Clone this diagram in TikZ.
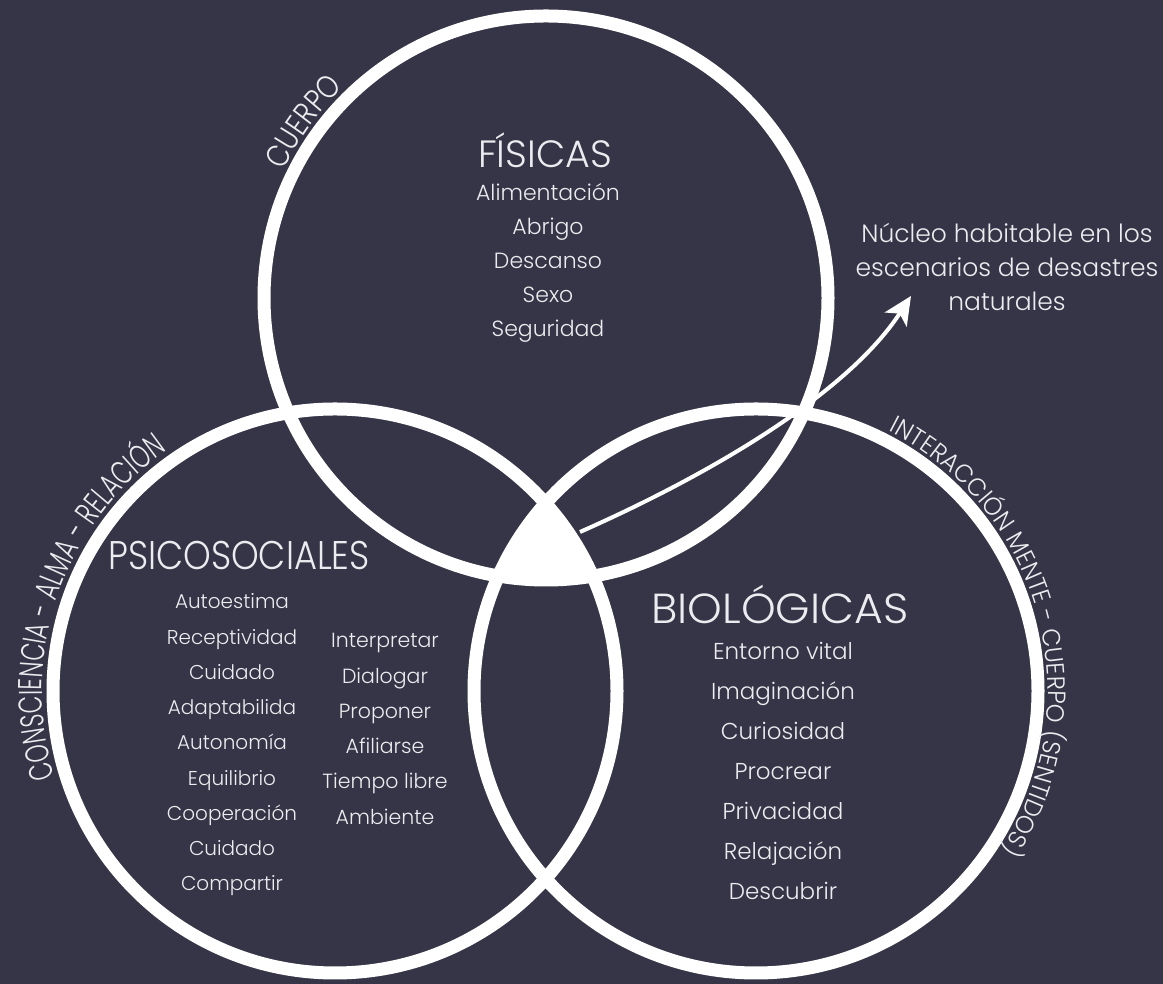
\documentclass[tikz,border=0pt]{standalone}
\usepackage{fontspec}
\setmainfont{Poppins}[UprightFont=* Light]
\usetikzlibrary{decorations.text, arrows.meta}
\definecolor{bg}{RGB}{54,53,71}
\definecolor{fg}{RGB}{236,236,240}
\tikzset{
  ring/.style={draw=white, line width=13pt},
  title/.style={text=fg, inner sep=0pt},
  items/.style={text=fg, inner sep=0pt, align=center},
  arclabel/.style={decorate, decoration={text along path, text align=center, text color=fg}},
}
\begin{document}
\begin{tikzpicture}[x=1pt, y=1pt]
\fill[bg] (0,0) rectangle (1163,984);
\useasboundingbox (0,0) rectangle (1163,984);
\coordinate (cT) at (546,686);
\coordinate (cL) at (335,293);
\coordinate (cR) at (756,293);
% central core
\begin{scope}
  \clip (cT) circle[radius=282pt];
  \clip (cL) circle[radius=282pt];
  \fill[white] (cR) circle[radius=282pt];
\end{scope}
% circles
\draw[ring] (cT) circle[radius=282pt];
\draw[ring] (cL) circle[radius=282pt];
\draw[ring] (cR) circle[radius=282pt];
% arrow
\coordinate (astart) at (580,452);
\coordinate (atip) at (911,688);
\draw[white, line width=4pt, -{Stealth[length=28pt, width=26pt, inset=7pt]}]
  (astart) .. controls (720,514) and (850,594) .. (atip);
% arc labels
\path[arclabel, decoration={text={|\fontsize{32}{32}\selectfont\addfontfeature{FakeStretch=0.83}|CUERPO}}]
  (cT) ++(168:292pt) arc[start angle=168, end angle=120, radius=292pt];
\path[arclabel, decoration={text={|\fontsize{33}{33}\selectfont\addfontfeature{FakeStretch=0.7}|CONSCIENCIA - ALMA - RELACIÓN}}]
  (cL) ++(212:293pt) arc[start angle=212, end angle=110, radius=293pt];
\path[arclabel, decoration={text={|\fontsize{25}{25}\selectfont\addfontfeature{FakeStretch=0.96}|INTERACCIÓN MENTE - CUERPO (SENTIDOS)}}]
  (cR) ++(72:292pt) arc[start angle=72, end angle=-42, radius=292pt];
% texts
\node[title, font={\fontsize{38}{38}\selectfont}] (fis) at (545,834) {FÍSICAS};
\node[items, font=\fontsize{22}{34}\selectfont] (fisl) at (548,721)
  {Alimentación\\Abrigo\\Descanso\\Sexo\\Seguridad};
\node[items, font=\fontsize{25}{34}\selectfont] (nuc) at (1007,717)
  {Núcleo habitable en los\\escenarios de desastres\\naturales};
\node[title, font={\fontsize{40}{40}\selectfont\addfontfeature{FakeStretch=0.88}}] (psi) at (239,428) {PSICOSOCIALES};
\node[items, font=\fontsize{20}{35.25}\selectfont] (psil) at (232,239)
  {Autoestima\\Receptividad\\Cuidado\\Adaptabilida\\Autonomía\\Equilibrio\\Cooperación\\Cuidado\\Compartir};
\node[items, font=\fontsize{20.5}{35.25}\selectfont] (psir) at (385,255)
  {Interpretar\\Dialogar\\Proponer\\Afiliarse\\Tiempo libre\\Ambiente};
\node[title, font={\fontsize{42}{42}\selectfont\addfontfeature{FakeStretch=1.05}}] (bio) at (780,380) {BIOLÓGICAS};
\node[items, font=\fontsize{23}{40}\selectfont] (biol) at (783,213)
  {Entorno vital\\Imaginación\\Curiosidad\\Procrear\\Privacidad\\Relajación\\Descubrir};
\end{tikzpicture}
\end{document}
